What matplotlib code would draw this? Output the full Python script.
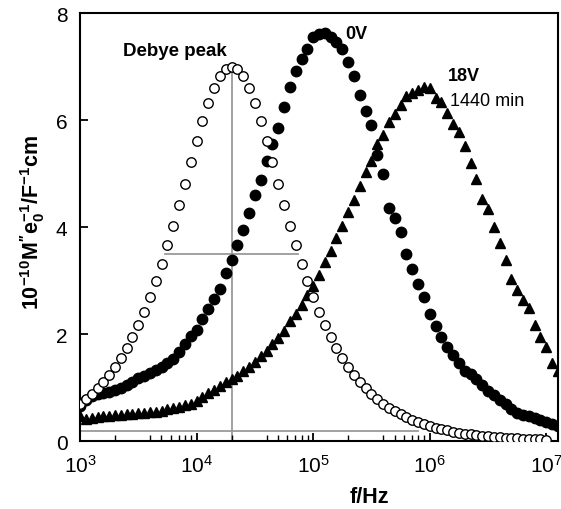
import matplotlib
matplotlib.use("Agg")
from matplotlib import pyplot as plt
from matplotlib.ticker import FixedLocator, NullFormatter

plt.rcParams['font.family'] = ['Liberation Sans', 'DejaVu Sans']
plt.rcParams['mathtext.fontset'] = 'custom'
plt.rcParams['mathtext.rm'] = 'Liberation Sans'
plt.rcParams['mathtext.bf'] = 'Liberation Sans:bold'
plt.rcParams['mathtext.it'] = 'Liberation Sans:italic'

# frequency sweep (Hz)
freq = [
    1.000e3, 1.122e3, 1.259e3, 1.413e3, 1.585e3, 1.778e3, 1.995e3, 2.239e3, 2.512e3, 2.818e3,
    3.162e3, 3.548e3, 3.981e3, 4.467e3, 5.012e3, 5.623e3, 6.310e3, 7.079e3, 7.943e3, 8.913e3,
    1.000e4, 1.122e4, 1.259e4, 1.413e4, 1.585e4, 1.778e4, 1.995e4, 2.239e4, 2.512e4, 2.818e4,
    3.162e4, 3.548e4, 3.981e4, 4.467e4, 5.012e4, 5.623e4, 6.310e4, 7.079e4, 7.943e4, 8.913e4,
    1.000e5, 1.122e5, 1.259e5, 1.413e5, 1.585e5, 1.778e5, 1.995e5, 2.239e5, 2.512e5, 2.818e5,
    3.162e5, 3.548e5, 3.981e5, 4.467e5, 5.012e5, 5.623e5, 6.310e5, 7.079e5, 7.943e5, 8.913e5,
    1.000e6, 1.122e6, 1.259e6, 1.413e6, 1.585e6, 1.778e6, 1.995e6, 2.239e6, 2.512e6, 2.818e6,
    3.162e6, 3.548e6, 3.981e6, 4.467e6, 5.012e6, 5.623e6, 6.310e6, 7.079e6, 7.943e6, 8.913e6,
    1.000e7, 1.122e7, 1.259e7,
]

# Debye peak (open circles), up to 1e7
debye = [
    0.700, 0.785, 0.880, 0.986, 1.105, 1.238, 1.386, 1.551, 1.735, 1.939,
    2.164, 2.413, 2.686, 2.985, 3.308, 3.655, 4.025, 4.412, 4.811, 5.213,
    5.608, 5.981, 6.318, 6.602, 6.818, 6.954, 7.000, 6.954, 6.818, 6.602,
    6.318, 5.981, 5.608, 5.213, 4.811, 4.412, 4.025, 3.655, 3.308, 2.985,
    2.686, 2.413, 2.164, 1.939, 1.735, 1.551, 1.386, 1.238, 1.105, 0.986,
    0.880, 0.785, 0.700, 0.624, 0.556, 0.496, 0.442, 0.394, 0.351, 0.313,
    0.279, 0.249, 0.222, 0.198, 0.176, 0.157, 0.140, 0.125, 0.111, 0.099,
    0.088, 0.079, 0.070, 0.063, 0.056, 0.050, 0.044, 0.039, 0.035, 0.031,
    0.028,
]

# 0V (filled circles)
v0 = [
    0.66, 0.76, 0.84, 0.87, 0.89, 0.91, 0.95, 1.00, 1.05, 1.11,
    1.17, 1.21, 1.27, 1.33, 1.38, 1.45, 1.54, 1.66, 1.81, 1.97,
    2.08, 2.29, 2.47, 2.65, 2.85, 3.14, 3.38, 3.66, 3.95, 4.26,
    4.60, 4.88, 5.24, 5.55, 5.85, 6.24, 6.61, 6.92, 7.14, 7.33,
    7.55, 7.61, 7.62, 7.55, 7.45, 7.33, 7.09, 6.83, 6.47, 6.17,
    5.91, 5.35, 4.99, 4.35, 4.16, 3.90, 3.50, 3.22, 2.93, 2.69,
    2.37, 2.15, 1.94, 1.75, 1.61, 1.45, 1.30, 1.25, 1.15, 1.05,
    0.94, 0.86, 0.77, 0.69, 0.60, 0.53, 0.49, 0.46, 0.43, 0.40,
    0.36, 0.32, 0.29,
]

# 18V, 1440 min (triangles)
v18 = [
    0.46, 0.42, 0.43, 0.44, 0.46, 0.47, 0.48, 0.49, 0.50, 0.51,
    0.52, 0.53, 0.54, 0.55, 0.57, 0.60, 0.62, 0.64, 0.67, 0.70,
    0.75, 0.83, 0.90, 0.96, 1.03, 1.10, 1.15, 1.22, 1.30, 1.39,
    1.48, 1.58, 1.69, 1.81, 1.92, 2.06, 2.25, 2.37, 2.55, 2.72,
    2.89, 3.10, 3.34, 3.56, 3.80, 4.02, 4.29, 4.50, 4.77, 5.02,
    5.24, 5.55, 5.72, 5.96, 6.12, 6.28, 6.45, 6.50, 6.57, 6.61,
    6.59, 6.42, 6.33, 6.14, 5.93, 5.77, 5.52, 5.20, 4.90, 4.52,
    4.34, 4.00, 3.70, 3.38, 3.02, 2.82, 2.64, 2.48, 2.16, 1.95,
    1.75, 1.45, 1.30,
]

# guide lines of the Debye peak
peak_f = 2.0e4
peak_y = 7.0
half_f = [5.36e3, 7.46e4]
half_y = 3.5
base_f = [1.0e3, 8.0e5]
base_y = 0.18

fig = plt.figure(figsize=(5.61, 5.10), dpi=100)
ax = fig.add_axes([0.1426, 0.1333, 0.8521, 0.8392])

grey = '#9a9a9a'
ax.plot([peak_f, peak_f], [0, peak_y], color=grey, lw=1.3, zorder=1)
ax.plot(half_f, [half_y, half_y], color=grey, lw=1.3, zorder=1)
ax.plot(base_f, [base_y, base_y], color=grey, lw=1.3, zorder=1)

ax.plot(freq[:len(debye)], debye, 'o', ms=6.8, mfc='white', mec='black',
        mew=1.0, zorder=3)
ax.plot(freq, v0, 'o', ms=7.5, color='black', zorder=2)
ax.plot(freq, v18, '^', ms=7.5, color='black', zorder=2)

ax.set_xscale('log')
ax.set_xlim(1e3, 1.26e7)
ax.set_ylim(0, 8)
ax.set_yticks([0, 2, 4, 6, 8])
ax.set_xticks([1e3, 1e4, 1e5, 1e6, 1e7])
minors = [m * 10 ** k for k in range(3, 7) for m in (2, 4, 5, 6, 7, 8, 9)]
ax.xaxis.set_minor_locator(FixedLocator(minors))
ax.xaxis.set_minor_formatter(NullFormatter())

ax.tick_params(axis='both', which='major', direction='in', length=6,
               width=1.3, labelsize=15, pad=9)
ax.tick_params(axis='x', which='minor', direction='in', length=4, width=1.0)
for s in ax.spines.values():
    s.set_linewidth(1.5)

ax.set_xlabel('f/Hz', fontsize=15.5, fontweight='bold')
ax.xaxis.set_label_coords((369 - 80) / 478, -0.105)
ax.set_ylabel(r"$\mathbf{10^{-10}M''e_0^{-1}/F^{-1}cm}$", fontsize=15.5)
ax.yaxis.set_label_coords(-0.07, 0.512)

ax.text(2.32e3, 7.14, 'Debye peak', fontsize=13.5, fontweight='bold',
        ha='left', va='bottom')
ax.text(1.9e5, 7.46, '0V', fontsize=13, fontweight='bold',
        ha='left', va='bottom')
ax.text(1.43e6, 6.67, '18V', fontsize=13, fontweight='bold',
        ha='left', va='bottom')
ax.text(1.48e6, 6.2, '1440 min', fontsize=13, ha='left', va='bottom')

fig.savefig('out.png', dpi=100)
